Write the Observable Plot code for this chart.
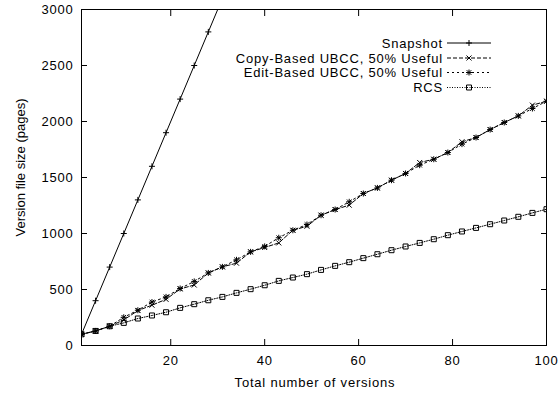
<!DOCTYPE html>
<html><head><meta charset="utf-8">
<script src="https://cdn.jsdelivr.net/npm/d3@7"></script>
<script src="https://cdn.jsdelivr.net/npm/@observablehq/plot@0.6"></script>
<style>
html,body{margin:0;padding:0;background:#fff;}
</style></head><body><div id="chart"></div>
<script>
const versions = [1,4,7,10,13,16,19,22,25,28,31,34,37,40,43,46,49,52,55,58,61,64,67,70,73,76,79,82,85,88,91,94,97,100];
const snapshotVersions = [1,4,7,10,13,16,19,22,25,28,31];
const snapshot = [100,400,700,1000,1300,1600,1900,2200,2500,2800,3100];
const copyBased = [100,130,172,228,312,360,412,505,540,648,702,735,836,875,916,1029,1065,1163,1214,1253,1357,1407,1476,1536,1634,1663,1723,1819,1857,1928,1991,2050,2146,2181];
const editBased = [100,130,172,252,315,388,434,509,572,648,702,765,836,885,962,1029,1080,1163,1214,1283,1357,1407,1476,1536,1610,1663,1723,1798,1857,1928,1991,2050,2116,2181];
const rcs = [100,130,172,202,241,268,297,336,369,404,434,470,503,538,577,607,637,675,711,744,780,815,851,884,916,949,985,1018,1050,1083,1116,1149,1184,1217];
const xTicks = [20,40,60,80,100];
const yTicks = [0,500,1000,1500,2000,2500,3000];
const seriesNames = ["Snapshot","Copy-Based UBCC, 50% Useful","Edit-Based UBCC, 50% Useful","RCS"];
const xTitle = "Total number of versions";
const yTitle = "Version file size (pages)";

const symPlus = {draw(c){c.moveTo(-3,0);c.lineTo(3,0);c.moveTo(0,-3);c.lineTo(0,3);}};
const symTimes = {draw(c){c.moveTo(-2.5,-2.5);c.lineTo(2.5,2.5);c.moveTo(-2.5,2.5);c.lineTo(2.5,-2.5);}};
const symStar = {draw(c){c.moveTo(-3,0);c.lineTo(3,0);c.moveTo(0,-3);c.lineTo(0,3);c.moveTo(-2.3,-2.3);c.lineTo(2.3,2.3);c.moveTo(-2.3,2.3);c.lineTo(2.3,-2.3);}};
const symSquare = {draw(c){c.rect(-2.5,-2.5,5,5);}};

const snapData = snapshotVersions.map((v,i)=>({v, s: snapshot[i]}));
const copyData = versions.map((v,i)=>({v, s: copyBased[i]}));
const editData = versions.map((v,i)=>({v, s: editBased[i]}));
const rcsData = versions.map((v,i)=>({v, s: rcs[i]}));

const styles = [
  {data: snapData, dash: null, sym: symPlus},
  {data: copyData, dash: "4,2", sym: symTimes},
  {data: editData, dash: "2,3", sym: symStar},
  {data: rcsData, dash: "1,1.5", sym: symSquare}
];

const marks = [];
for (const st of styles) {
  marks.push(Plot.line(st.data, {x: "v", y: "s", stroke: "black", strokeWidth: 1, strokeDasharray: st.dash, clip: true}));
  marks.push(Plot.dot(st.data, {x: "v", y: "s", symbol: st.sym, r: 3, fill: "none", stroke: "black", strokeWidth: 1, clip: true}));
}

const FONT = '"Liberation Sans", Arial, sans-serif';
const plot = Plot.plot({
  width: 558, height: 394,
  marginLeft: 81, marginRight: 12, marginTop: 9, marginBottom: 49,
  style: {fontFamily: FONT, fontSize: "13px", letterSpacing: "0.8px", background: "white", color: "black"},
  x: {domain: [1,100], axis: null},
  y: {domain: [0,3000], axis: null},
  marks: [
    ...marks,
    Plot.axisX(xTicks, {anchor: "bottom", tickSize: 6, dy: -6, text: null, label: null}),
    Plot.axisX(xTicks, {anchor: "top", tickSize: 6, dy: 6, text: null, label: null}),
    Plot.axisX(xTicks, {anchor: "bottom", tickSize: 0, tickPadding: 10, label: null, tickFormat: d3.format("d")}),
    Plot.axisY(yTicks, {anchor: "left", tickSize: 6, dx: 6, text: null, label: null}),
    Plot.axisY(yTicks, {anchor: "right", tickSize: 6, dx: -6, text: null, label: null}),
    Plot.axisY(yTicks, {anchor: "left", tickSize: 0, tickPadding: 8, label: null, tickFormat: d3.format("d")}),
    Plot.frame({stroke: "black", strokeWidth: 1})
  ]
});
document.getElementById("chart").appendChild(plot);

// titles and legend
const svg = d3.select(plot);
svg.append("text").attr("x", 315).attr("y", 382).attr("dy", "0.35em")
  .attr("text-anchor", "middle").attr("fill", "black").text(xTitle);
svg.append("text").attr("transform", "translate(20,167.5) rotate(-90)").attr("dy", "0.35em")
  .attr("text-anchor", "middle").attr("fill", "black").style("letter-spacing", "0px").text(yTitle);

const legendYs = [43, 58, 72.5, 87.5];
const lg = svg.append("g");
seriesNames.forEach((name, i) => {
  const y = legendYs[i];
  lg.append("text").attr("x", 443).attr("y", y).attr("dy", "0.35em").attr("text-anchor", "end")
    .attr("fill", "black").text(name);
  lg.append("line").attr("x1", 447).attr("x2", 491).attr("y1", y).attr("y2", y)
    .attr("stroke", "black").attr("stroke-width", 1)
    .attr("stroke-dasharray", styles[i].dash);
  const p = d3.path();
  styles[i].sym.draw(p);
  lg.append("path").attr("transform", `translate(469,${y})`).attr("d", p.toString())
    .attr("fill", "none").attr("stroke", "black");
});
</script></body></html>
